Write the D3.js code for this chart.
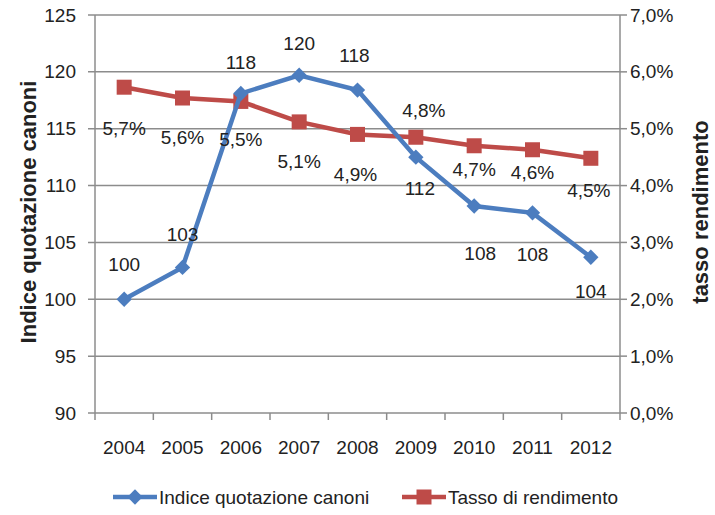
<!DOCTYPE html>
<html>
<head>
<meta charset="utf-8">
<script src="https://cdn.jsdelivr.net/npm/d3@7"></script>
<style>
  body { margin: 0; background: #fff; }
  text { font-family: "Liberation Sans", Arial, sans-serif; fill: #222; }
</style>
</head>
<body>
<svg id="chart" width="715" height="515"></svg>
<script>
// data
const years = ["2004", "2005", "2006", "2007", "2008", "2009", "2010", "2011", "2012"];
const indice = [100, 102.8, 118.1, 119.7, 118.4, 112.5, 108.2, 107.6, 103.7];
const indiceLabels = ["100", "103", "118", "120", "118", "112", "108", "108", "104"];
const tasso = [0.0573, 0.0554, 0.0548, 0.0512, 0.0490, 0.0485, 0.0470, 0.0463, 0.0448];
const tassoLabels = ["5,7%", "5,6%", "5,5%", "5,1%", "4,9%", "4,8%", "4,7%", "4,6%", "4,5%"];
const leftTicks = [90, 95, 100, 105, 110, 115, 120, 125];
const rightTicks = [0, 0.01, 0.02, 0.03, 0.04, 0.05, 0.06, 0.07];

// label placement (pixels from point)
const indiceLabelDx = [0, 0, 0, 0, -3, 4, 6, 0, 0];
const indiceLabelDy = [-35, -33, -31, -32, -35, 31, 47, 42, 34];
const tassoLabelDx = [0, 0, 0, 0, -2, 8, 0, 0, -2];
const tassoLabelDy = [41, 39, 38, 40, 40, -27, 24, 23, 32];

const blue = "#4c7dbf";
const red = "#be4b48";
const grid = "#8c8c8c";
const fontSize = 19;

const svg = d3.select("#chart");
const plotLeft = 95, plotRight = 620, plotTop = 15, plotBottom = 413;

const x = d3.scaleBand().domain(years).range([plotLeft, plotRight]);
const y = d3.scaleLinear().domain([90, 125]).range([plotBottom, plotTop]);
const y2 = d3.scaleLinear().domain([0, 0.07]).range([plotBottom, plotTop]);

// gridlines
svg.append("g")
    .selectAll("line")
    .data(leftTicks)
    .enter()
    .append("line")
    .attr("x1", plotLeft - 7)
    .attr("x2", plotRight)
    .attr("y1", d => y(d))
    .attr("y2", d => y(d))
    .attr("stroke", grid)
    .attr("stroke-width", 1.5);

// right axis ticks
svg.append("g")
    .selectAll("line")
    .data(rightTicks)
    .enter()
    .append("line")
    .attr("x1", plotRight)
    .attr("x2", plotRight + 7)
    .attr("y1", d => y2(d))
    .attr("y2", d => y2(d))
    .attr("stroke", grid)
    .attr("stroke-width", 1.5);

// axis lines
svg.append("line").attr("x1", plotLeft).attr("x2", plotLeft).attr("y1", plotTop).attr("y2", plotBottom)
    .attr("stroke", grid).attr("stroke-width", 1.5);
svg.append("line").attr("x1", plotRight).attr("x2", plotRight).attr("y1", plotTop).attr("y2", plotBottom)
    .attr("stroke", grid).attr("stroke-width", 1.5);

// x tick marks at band edges
const edges = years.map(d => x(d)).concat([plotRight]);
svg.append("g")
    .selectAll("line")
    .data(edges)
    .enter()
    .append("line")
    .attr("x1", d => d)
    .attr("x2", d => d)
    .attr("y1", plotBottom)
    .attr("y2", plotBottom + 7)
    .attr("stroke", grid)
    .attr("stroke-width", 1.5);

// tick labels
svg.append("g")
    .selectAll("text")
    .data(leftTicks)
    .enter()
    .append("text")
    .attr("x", 76)
    .attr("y", d => y(d))
    .attr("text-anchor", "end")
    .attr("dominant-baseline", "central")
    .attr("font-size", fontSize)
    .text(d => d);

svg.append("g")
    .selectAll("text")
    .data(rightTicks)
    .enter()
    .append("text")
    .attr("x", 630)
    .attr("y", d => y2(d))
    .attr("dominant-baseline", "central")
    .attr("font-size", fontSize)
    .text(d => (d * 100).toFixed(1).replace(".", ",") + "%");

svg.append("g")
    .selectAll("text")
    .data(years)
    .enter()
    .append("text")
    .attr("x", d => x(d) + x.bandwidth() / 2)
    .attr("y", 447)
    .attr("text-anchor", "middle")
    .attr("dominant-baseline", "central")
    .attr("font-size", fontSize)
    .text(d => d);

// axis titles
svg.append("text")
    .attr("transform", "translate(28,212) rotate(-90)")
    .attr("text-anchor", "middle")
    .attr("dominant-baseline", "central")
    .attr("font-size", 22)
    .attr("font-weight", "bold")
    .text("Indice quotazione canoni");

svg.append("text")
    .attr("transform", "translate(700,212) rotate(-90)")
    .attr("text-anchor", "middle")
    .attr("dominant-baseline", "central")
    .attr("font-size", 22)
    .attr("font-weight", "bold")
    .text("tasso rendimento");

const cx = (d, i) => x(years[i]) + x.bandwidth() / 2;

// red series
svg.append("path")
    .datum(tasso)
    .attr("fill", "none")
    .attr("stroke", red)
    .attr("stroke-width", 4.5)
    .attr("d", d3.line().x(cx).y(d => y2(d)));

svg.append("g")
    .selectAll("rect")
    .data(tasso)
    .enter()
    .append("rect")
    .attr("x", (d, i) => cx(d, i) - 7.5)
    .attr("y", d => y2(d) - 7.5)
    .attr("width", 15)
    .attr("height", 15)
    .attr("fill", red);

// blue series
svg.append("path")
    .datum(indice)
    .attr("fill", "none")
    .attr("stroke", blue)
    .attr("stroke-width", 4.5)
    .attr("d", d3.line().x(cx).y(d => y(d)));

const diamond = d3.symbol().type(d3.symbolDiamond2).size(150);
svg.append("g")
    .selectAll("path")
    .data(indice)
    .enter()
    .append("path")
    .attr("d", diamond)
    .attr("transform", (d, i) => `translate(${cx(d, i)},${y(d)})`)
    .attr("fill", blue);

// data labels
svg.append("g")
    .selectAll("text")
    .data(indice)
    .enter()
    .append("text")
    .attr("x", (d, i) => cx(d, i) + indiceLabelDx[i])
    .attr("y", (d, i) => y(d) + indiceLabelDy[i])
    .attr("text-anchor", "middle")
    .attr("dominant-baseline", "central")
    .attr("font-size", fontSize)
    .text((d, i) => indiceLabels[i]);

svg.append("g")
    .selectAll("text")
    .data(tasso)
    .enter()
    .append("text")
    .attr("x", (d, i) => cx(d, i) + tassoLabelDx[i])
    .attr("y", (d, i) => y2(d) + tassoLabelDy[i])
    .attr("text-anchor", "middle")
    .attr("dominant-baseline", "central")
    .attr("font-size", fontSize)
    .text((d, i) => tassoLabels[i]);

// legend
const legendItems = [
    { name: "Indice quotazione canoni", color: blue, marker: "diamond", x: 113 },
    { name: "Tasso di rendimento", color: red, marker: "square", x: 402 }
];
const legendY = 497;
const legend = svg.append("g")
    .selectAll("g")
    .data(legendItems)
    .enter()
    .append("g")
    .attr("transform", d => `translate(${d.x},${legendY})`);

legend.append("line")
    .attr("x1", 0).attr("x2", 44)
    .attr("stroke", d => d.color)
    .attr("stroke-width", 4.5);

legend.append("path")
    .attr("d", d => d.marker === "diamond"
        ? diamond()
        : d3.symbol().type(d3.symbolSquare).size(225)())
    .attr("transform", "translate(22,0)")
    .attr("fill", d => d.color);

legend.append("text")
    .attr("x", 46)
    .attr("dominant-baseline", "central")
    .attr("font-size", fontSize)
    .text(d => d.name);
</script>
</body>
</html>
